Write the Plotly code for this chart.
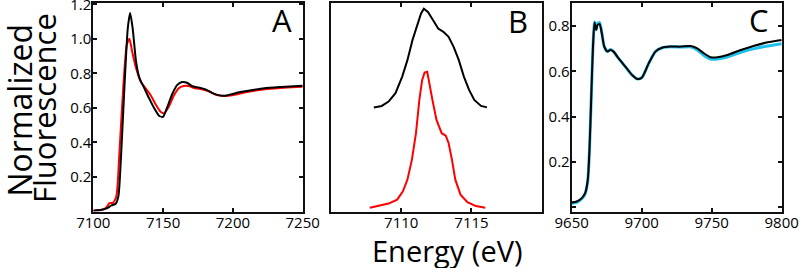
import plotly.graph_objects as go

# ---------------- Data ----------------
# Panel A
a_energy_black = [7100, 7106, 7110, 7113, 7116, 7118, 7120, 7122.4, 7124.7, 7126.4, 7128.2, 7130.6, 7133,
                  7136.5, 7140, 7143.5, 7147.1, 7149.9, 7152.9, 7156.5, 7160, 7163.5, 7167.1, 7170.6,
                  7175.3, 7180, 7184.7, 7189.4, 7194.1, 7198.8, 7203.5, 7212.9, 7222.4, 7234.1, 7250]
a_black = [0.005, 0.01, 0.02, 0.035, 0.045, 0.09, 0.34, 0.737, 1.061, 1.15, 1.061, 0.870, 0.775,
           0.715, 0.655, 0.600, 0.555, 0.548, 0.603, 0.679, 0.732, 0.750, 0.746, 0.727,
           0.718, 0.708, 0.689, 0.674, 0.670, 0.679, 0.689, 0.702, 0.714, 0.721, 0.728]
a_energy_red = [7100, 7104.7, 7108, 7110, 7111.5, 7114, 7116.5, 7118.8, 7121.6, 7124, 7125.9, 7127.8,
                7130.6, 7134.1, 7137.6, 7141.2, 7144.7, 7148.2, 7150.6, 7154.1, 7157.6, 7161.2,
                7164.7, 7168.2, 7172.9, 7177.6, 7182.4, 7187.1, 7191.8, 7196.5, 7201.2, 7208.2,
                7217.6, 7229.4, 7250]
a_red = [0.004, 0.008, 0.015, 0.03, 0.048, 0.05, 0.088, 0.355, 0.737, 0.966, 1.0, 0.927,
         0.832, 0.750, 0.712, 0.672, 0.620, 0.578, 0.569, 0.607, 0.670, 0.714,
         0.727, 0.727, 0.714, 0.708, 0.698, 0.679, 0.670, 0.670, 0.676, 0.689,
         0.702, 0.712, 0.722]

# Panel B (arbitrary offset units)
b_energy_black = [7108.05, 7108.61, 7109.10, 7109.59, 7110.07, 7110.44, 7110.80, 7111.17, 7111.41, 7111.61,
                  7111.90, 7112.27, 7112.63, 7113.0, 7113.37, 7113.73, 7114.10, 7114.46, 7114.83,
                  7115.20, 7115.68, 7116.10]
b_black = [0.50, 0.507, 0.528, 0.568, 0.648, 0.727, 0.823, 0.903, 0.951, 0.974,
           0.958, 0.919, 0.879, 0.863, 0.839, 0.791, 0.727, 0.648, 0.584,
           0.536, 0.507, 0.50]
b_energy_red = [7107.76, 7108.37, 7109.10, 7109.71, 7110.12, 7110.44, 7110.76, 7111.05, 7111.29, 7111.49,
                7111.66, 7111.85, 7112.02, 7112.22, 7112.51, 7112.88, 7113.17, 7113.37, 7113.61,
                7113.85, 7114.22, 7114.71, 7115.32, 7115.98]
b_red = [0.018, 0.026, 0.038, 0.057, 0.097, 0.153, 0.249, 0.376, 0.536, 0.632,
         0.667, 0.671, 0.616, 0.536, 0.440, 0.376, 0.364, 0.329, 0.249,
         0.153, 0.081, 0.045, 0.026, 0.018]

# Panel C
c_energy = [9650, 9653.6, 9657.2, 9659.6, 9661.5, 9662.7, 9663.9, 9665.1, 9666.3, 9667.5, 9668.4,
            9669.9, 9671.5, 9673.2, 9675.6, 9677.5, 9679.9, 9683.5, 9688.3, 9693.1, 9697.1,
            9700.2, 9705, 9709.8, 9714.6, 9720.6, 9727.8, 9734.9, 9739.7, 9744.5, 9749.3,
            9754.1, 9761.2, 9770.8, 9780.4, 9790, 9800]
c_black = [0.022, 0.026, 0.041, 0.063, 0.122, 0.254, 0.474, 0.694, 0.815, 0.782, 0.804,
           0.809, 0.768, 0.710, 0.687, 0.694, 0.687, 0.657, 0.621, 0.584, 0.566,
           0.573, 0.635, 0.687, 0.704, 0.709, 0.709, 0.712, 0.701, 0.679, 0.662,
           0.662, 0.672, 0.694, 0.713, 0.728, 0.738]
c_cyan = [0.018, 0.022, 0.038, 0.060, 0.120, 0.252, 0.472, 0.694, 0.818, 0.785, 0.810,
          0.815, 0.770, 0.710, 0.687, 0.696, 0.687, 0.657, 0.621, 0.584, 0.566,
          0.573, 0.635, 0.687, 0.704, 0.708, 0.707, 0.708, 0.694, 0.670, 0.654,
          0.654, 0.663, 0.684, 0.700, 0.712, 0.722]

a_xticks = [7100, 7150, 7200, 7250]
a_xticktext = ["7100", "7150", "7200", "7250"]
a_yticks = [0.2, 0.4, 0.6, 0.8, 1.0, 1.2]
a_yticktext = ["0.2", "0.4", "0.6", "0.8", "1.0", "1.2"]
b_xticks = [7110, 7115]
b_xticktext = ["7110", "7115"]
c_xticks = [9650, 9700, 9750, 9800]
c_xticktext = ["9650", "9700", "9750", "9800"]
c_yticks = [0, 0.2, 0.4, 0.6, 0.8]
c_yticktext = ["", "0.2", "0.4", "0.6", "0.8"]

# ---------------- Figure ----------------
W, H = 800, 268
FONT = "Open Sans"
fig = go.Figure()

fig.add_trace(go.Scatter(x=a_energy_red, y=a_red, mode="lines", xaxis="x", yaxis="y",
                         line=dict(color="#ff0000", width=2, shape="spline", smoothing=0.6)))
fig.add_trace(go.Scatter(x=a_energy_black, y=a_black, mode="lines", xaxis="x", yaxis="y",
                         line=dict(color="black", width=2, shape="spline", smoothing=0.6)))

fig.add_trace(go.Scatter(x=b_energy_black, y=b_black, mode="lines", xaxis="x2", yaxis="y2",
                         line=dict(color="black", width=2)))
fig.add_trace(go.Scatter(x=b_energy_red, y=b_red, mode="lines", xaxis="x2", yaxis="y2",
                         line=dict(color="#ff0000", width=2)))

fig.add_trace(go.Scatter(x=c_energy, y=c_cyan, mode="lines", xaxis="x3", yaxis="y3",
                         line=dict(color="#1ec0ee", width=3, shape="spline", smoothing=0.6)))
fig.add_trace(go.Scatter(x=c_energy, y=c_black, mode="lines", xaxis="x3", yaxis="y3",
                         line=dict(color="black", width=2, shape="spline", smoothing=0.6)))


def px(v):
    return v / W


def py(v):
    return 1 - v / H


ydom = [py(211.5), py(3.3)]
axis_common = dict(showline=True, linecolor="#111", linewidth=2, mirror="ticks", ticks="inside",
                   ticklen=4, tickwidth=1.5, tickcolor="#111", showgrid=False, zeroline=False,
                   tickfont=dict(family=FONT, size=15, color="black"), automargin=False,
                   ticklabeloverflow="allow")
xax = dict(axis_common, ticklabelstandoff=-4)
yax = dict(axis_common, ticklabelstandoff=-3)

fig.update_layout(
    width=W, height=H, margin=dict(l=0, r=0, t=0, b=0),
    paper_bgcolor="white", plot_bgcolor="white", showlegend=False,
    xaxis=dict(domain=[px(93.3), px(302.7)], range=[7100, 7250], tickvals=a_xticks, ticktext=a_xticktext,
               anchor="y", **xax),
    yaxis=dict(domain=ydom, range=[0, 1.206], tickvals=a_yticks, ticktext=a_yticktext, anchor="x", **yax),
    xaxis2=dict(domain=[px(331), px(541.7)], range=[7105, 7120], tickvals=b_xticks, ticktext=b_xticktext,
                anchor="y2", **xax),
    yaxis2=dict(domain=ydom, range=[0, 1], anchor="x2", showticklabels=False,
                **{**yax, "ticks": "", "mirror": True}),
    xaxis3=dict(domain=[px(571.7), px(781.7)], range=[9650, 9800], tickvals=c_xticks, ticktext=c_xticktext,
                anchor="y3", **xax),
    yaxis3=dict(domain=ydom, range=[-0.018, 0.90], tickvals=c_yticks, ticktext=c_yticktext,
                anchor="x3", **yax),
)

ann_font_big = dict(family=FONT, size=31, color="black")
for txt, xx, yy in [("A", 282, 20), ("B", 518, 21), ("C", 759, 20)]:
    fig.add_annotation(text=txt, x=px(xx), y=py(yy), xref="paper", yref="paper",
                       xanchor="center", yanchor="middle", showarrow=False, font=ann_font_big)

fig.add_annotation(text="Normalized", x=px(19.5), y=py(110), xref="paper", yref="paper", textangle=-90,
                   xanchor="center", yanchor="middle", showarrow=False, font=dict(family=FONT, size=32, color="black"))
fig.add_annotation(text="Fluorescence", x=px(44), y=py(108), xref="paper", yref="paper", textangle=-90,
                   xanchor="center", yanchor="middle", showarrow=False, font=dict(family=FONT, size=31, color="black"))
fig.add_annotation(text="Energy (eV)", x=px(447), y=py(250), xref="paper", yref="paper",
                   xanchor="center", yanchor="middle", showarrow=False, font=dict(family=FONT, size=29, color="black"))

fig.write_html("out.html", config={"displayModeBar": False},
               post_script="document.body.style.margin='0';document.body.style.overflow='hidden';")
